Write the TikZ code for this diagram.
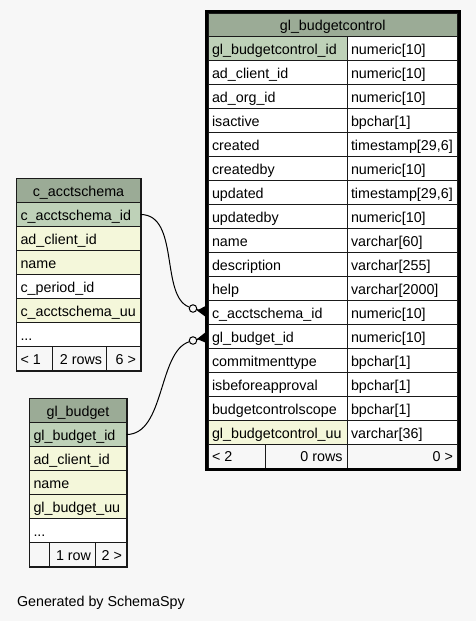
\documentclass[tikz,border=0pt]{standalone}
\usepackage{fontspec}
\setmainfont{Liberation Sans}
\definecolor{bgc}{HTML}{F7F7F7}
\definecolor{hdr}{HTML}{9BAB96}
\definecolor{pkc}{HTML}{BED1B8}
\definecolor{idxc}{HTML}{F4F7DA}
\definecolor{ftr}{HTML}{F7F7F7}
\definecolor{brd}{HTML}{1A1A1A}
\newcommand\tdots{...}
\newcommand\mkcell[6]{\node[cellbox, fill=#6, minimum width=#4pt, minimum height=#5pt, anchor=north west] (#1) at (#2,#3) {};}
\newcommand\txL[2]{\node[txt, anchor=base west] (#1-t) at ([xshift=4pt,yshift=-5.5pt]#1.west) {#2};}
\newcommand\txR[2]{\node[txt, anchor=base east] (#1-t) at ([xshift=-4.5pt,yshift=-5.5pt]#1.east) {#2};}
\newcommand\txC[2]{\node[txt, anchor=base] (#1-t) at ([yshift=-5.5pt]#1.center) {#2};}
\begin{document}
\begin{tikzpicture}[x=1pt,y=-1pt,
  cellbox/.style={draw=brd, line width=0.8pt, rectangle, inner sep=0pt, outer sep=0pt},
  txt/.style={inner sep=0pt, outer sep=0pt, font=\fontsize{14.3}{16}\selectfont},
  conn/.style={draw=black, line width=1pt},
  odot/.style={circle, draw=black, fill=bgc, line width=1pt, inner sep=0pt, minimum size=7.5pt}]
\fill[bgc] (0,0) rectangle (476,621);
\useasboundingbox (0,0) rectangle (476,621);

% ---------------- gl_budgetcontrol ----------------
\mkcell{bc-h}{208}{13}{249.5}{23.5}{hdr}
\txC{bc-h}{gl\_budgetcontrol}
\foreach [count=\i] \n/\t/\f in {
  gl\_budgetcontrol\_id/numeric[10]/pkc,
  ad\_client\_id/numeric[10]/white,
  ad\_org\_id/numeric[10]/white,
  isactive/bpchar[1]/white,
  created/{timestamp[29,6]}/white,
  createdby/numeric[10]/white,
  updated/{timestamp[29,6]}/white,
  updatedby/numeric[10]/white,
  name/varchar[60]/white,
  description/varchar[255]/white,
  help/varchar[2000]/white,
  c\_acctschema\_id/numeric[10]/white,
  gl\_budget\_id/numeric[10]/white,
  commitmenttype/bpchar[1]/white,
  isbeforeapproval/bpchar[1]/white,
  budgetcontrolscope/bpchar[1]/white,
  gl\_budgetcontrol\_uu/varchar[36]/idxc}{
  \pgfmathsetmacro\yy{36.5+24*(\i-1)}
  \mkcell{bc-\i-n}{208}{\yy}{139}{24}{\f}
  \mkcell{bc-\i-t}{347}{\yy}{110.5}{24}{white}
  \txL{bc-\i-n}{\n}
  \txL{bc-\i-t}{\t}
}
\mkcell{bc-f1}{208}{444.5}{57.5}{23.5}{ftr}
\mkcell{bc-f2}{265.5}{444.5}{81.5}{23.5}{ftr}
\mkcell{bc-f3}{347}{444.5}{110.5}{23.5}{ftr}
\txL{bc-f1}{< 2}
\txR{bc-f2}{0 rows}
\txR{bc-f3}{0 >}
\draw[black, line width=3pt] ([xshift=-1.5pt,yshift=1.5pt]bc-h.north west) rectangle ([xshift=1.5pt,yshift=-1.5pt]bc-f3.south east);

% ---------------- c_acctschema ----------------
\mkcell{ca-h}{16.5}{178.5}{124}{24}{hdr}
\txC{ca-h}{c\_acctschema}
\foreach [count=\i] \n/\f in {
  c\_acctschema\_id/pkc,
  ad\_client\_id/idxc,
  name/idxc,
  c\_period\_id/white,
  c\_acctschema\_uu/idxc,
  \tdots/white}{
  \pgfmathsetmacro\yy{202.5+24*(\i-1)}
  \mkcell{ca-\i}{16.5}{\yy}{124}{24}{\f}
  \txL{ca-\i}{\n}
}
\mkcell{ca-f1}{16.5}{346.5}{36}{24}{ftr}
\mkcell{ca-f2}{52.5}{346.5}{54}{24}{ftr}
\mkcell{ca-f3}{106.5}{346.5}{34}{24}{ftr}
\txL{ca-f1}{< 1}
\txR{ca-f2}{2 rows}
\txR{ca-f3}{6 >}
\draw[brd, line width=1.2pt] ([xshift=-0.4pt,yshift=0.4pt]ca-h.north west) rectangle ([xshift=0.4pt,yshift=-0.4pt]ca-f3.south east);

% ---------------- gl_budget ----------------
\mkcell{gb-h}{29.5}{398.5}{97}{24}{hdr}
\txC{gb-h}{gl\_budget}
\foreach [count=\i] \n/\f in {
  gl\_budget\_id/pkc,
  ad\_client\_id/idxc,
  name/idxc,
  gl\_budget\_uu/idxc,
  \tdots/white}{
  \pgfmathsetmacro\yy{422.5+24*(\i-1)}
  \mkcell{gb-\i}{29.5}{\yy}{97}{24}{\f}
  \txL{gb-\i}{\n}
}
\mkcell{gb-f1}{29.5}{542.5}{20}{24}{ftr}
\mkcell{gb-f2}{49.5}{542.5}{46}{24}{ftr}
\mkcell{gb-f3}{95.5}{542.5}{31}{24}{ftr}
\txR{gb-f2}{1 row}
\txR{gb-f3}{2 >}
\draw[brd, line width=1.2pt] ([xshift=-0.4pt,yshift=0.4pt]gb-h.north west) rectangle ([xshift=0.4pt,yshift=-0.4pt]gb-f3.south east);

% ---------------- connectors ----------------
\node[odot] (o1) at (193,308.5) {};
\node[odot] (o2) at (193,340.5) {};
\draw[conn] (ca-1.east) .. controls (180,214.5) and (160,296) .. (o1);
\draw[conn] (gb-1.east) .. controls (165,434.5) and (158,352) .. (o2);
\draw[conn] (o1) -- (bc-12-n.west);
\draw[conn] (o2) -- (bc-13-n.west);
\fill[black] (197,310.5) -- (206.5,305.5) -- (206.5,317.5) -- cycle;
\fill[black] (197,339) -- (206.5,331.5) -- (206.5,343) -- cycle;

\node[txt, anchor=base west] (gen) at (17,606.5) {Generated by SchemaSpy};
\end{tikzpicture}
\end{document}
